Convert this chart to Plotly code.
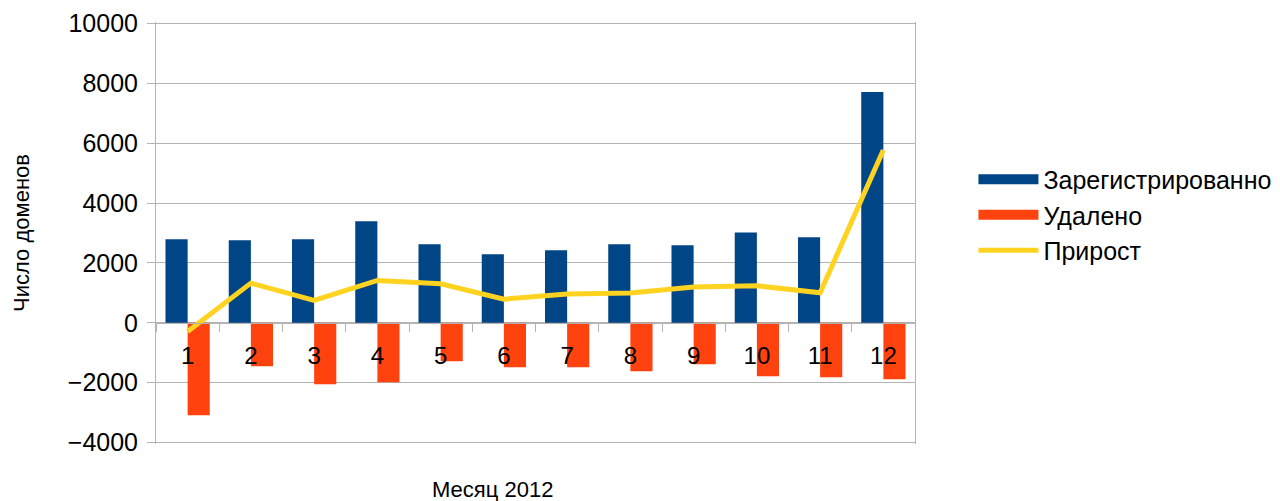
import plotly.graph_objects as go

months = ["1", "2", "3", "4", "5", "6", "7", "8", "9", "10", "11", "12"]
registered = [2790, 2755, 2790, 3390, 2620, 2290, 2420, 2620, 2590, 3020, 2855, 7710]
deleted = [-3090, -1450, -2055, -1990, -1285, -1485, -1485, -1620, -1385, -1790, -1820, -1890]
growth = [-290, 1325, 745, 1415, 1305, 790, 965, 995, 1195, 1235, 1005, 5770]

names = ["Зарегистрированно", "Удалено", "Прирост"]
colors = ["#004586", "#ff420e", "#ffd320"]
FONT = "Liberation Sans, Arial, sans-serif"

fig = go.Figure()
fig.add_trace(go.Bar(x=months, y=registered, name=names[0], marker_color=colors[0],
                     marker_line_width=0, showlegend=False))
fig.add_trace(go.Bar(x=months, y=deleted, name=names[1], marker_color=colors[1],
                     marker_line_width=0, showlegend=False))
fig.add_trace(go.Scatter(x=months, y=growth, name=names[2], mode="lines",
                         line=dict(color=colors[2], width=5), showlegend=False))
# legend entries
for i, (n, c, w) in enumerate(zip(names, colors, [15, 15, 5])):
    fig.add_trace(go.Scatter(x=[None], y=[None], name=n, mode="lines",
                             legendgroup="g%d" % i,
                             line=dict(color=c, width=w)))

L, R, T, B = 156, 365, 22, 57
H = 501 - T - B
YMIN, YMAX = -4050, 10050
zero_pos = (0 - YMIN) / (YMAX - YMIN)
bottom_px = 501 - B

fig.update_layout(
    width=1280, height=501,
    margin=dict(l=L, r=R, t=T, b=B, autoexpand=False),
    paper_bgcolor="white", plot_bgcolor="white",
    barmode="group", bargap=0.3, bargroupgap=0,
    font=dict(family=FONT, size=24, color="#000000"),
    legend=dict(x=1.077, y=(bottom_px - 215) / H, xanchor="left", yanchor="middle",
                font=dict(size=25), itemwidth=60, tracegroupgap=0,
                traceorder="grouped",
                bgcolor="rgba(0,0,0,0)"),
    xaxis=dict(type="category", anchor="free", position=zero_pos, automargin=False,
               showline=True, linecolor="#b3b3b3", linewidth=1,
               ticks="outside", tickson="boundaries", ticklen=8,
               tickcolor="#b3b3b3", showgrid=False, zeroline=False,
               tickfont=dict(size=24), ticklabelstandoff=11,
               range=[-0.5, 11.5]),
    yaxis=dict(range=[YMIN, YMAX], dtick=2000, tick0=0, tickformat="d",
               automargin=False,
               showline=True, linecolor="#b3b3b3", linewidth=1, mirror=True,
               showgrid=True, gridcolor="#b3b3b3", gridwidth=1,
               zeroline=False, ticks="outside", ticklen=8, tickcolor="#b3b3b3",
               tickfont=dict(size=25), ticklabelstandoff=4,
               title=dict(text="Число доменов", font=dict(size=22), standoff=32)),
    annotations=[dict(text="Месяц 2012", xref="paper", yref="paper",
                      x=(492 - L) / 759, y=-(489 - bottom_px) / H, xanchor="center", yanchor="middle",
                      showarrow=False, font=dict(size=22))],
)

fig.write_html("out.html", config={"displayModeBar": False},
               post_script="document.body.style.margin='0';document.body.style.overflow='hidden';")
